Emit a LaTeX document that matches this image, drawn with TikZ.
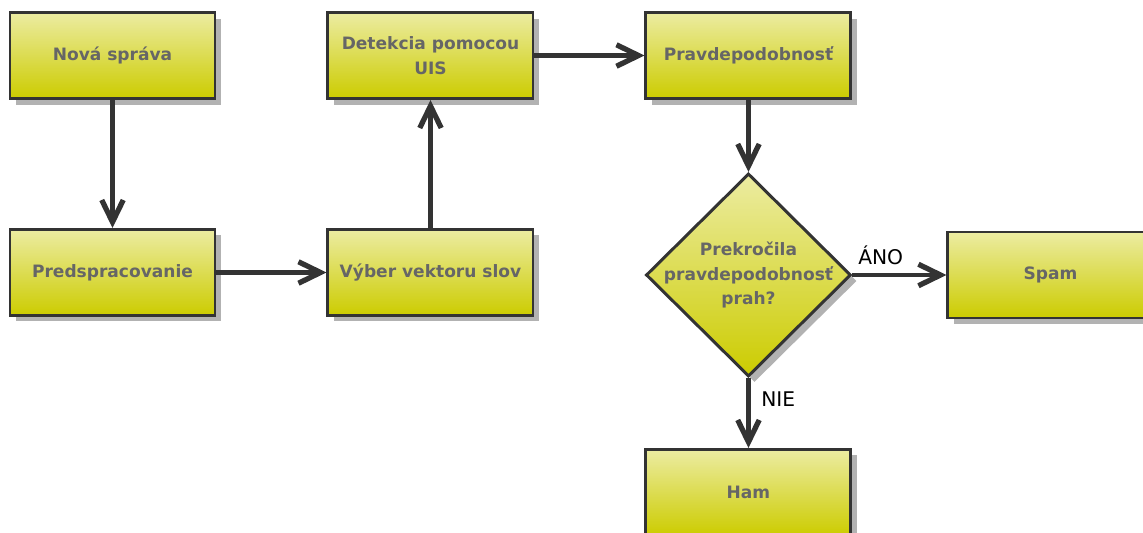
\documentclass[tikz,border=0pt]{standalone}
\usepackage{fontspec}
\setsansfont{DejaVu Sans}
\usetikzlibrary{arrows.meta,positioning,shapes.geometric,shadows}
\definecolor{flowdark}{RGB}{51,51,51}
\definecolor{flowtext}{RGB}{102,102,102}
\definecolor{flowtop}{RGB}{236,236,162}
\definecolor{flowbottom}{RGB}{204,204,0}
\definecolor{flowshadow}{RGB}{178,178,178}

\begin{document}
\begin{tikzpicture}[
    node distance=2.2cm,
    box/.style={rectangle, draw=flowdark, line width=1.7pt, top color=flowtop, bottom color=flowbottom,
      minimum width=4.1cm, minimum height=1.72cm, align=center, text=flowtext,
      font=\sffamily\bfseries\fontsize{9.7}{14}\selectfont,
      drop shadow={shadow xshift=0.12cm, shadow yshift=-0.12cm, fill=flowshadow, opacity=1}},
    decision/.style={box, diamond, inner sep=-0.3cm, minimum width=4.1cm, minimum height=4.06cm},
    answer/.style={font=\sffamily\fontsize{11.5}{13}\selectfont, text=black},
    arr/.style={-{Straight Barb[length=4.4mm, width=4.3mm, line width=3pt]}, line width=2.3pt, draw=flowdark}
  ]
  \useasboundingbox (0,0) rectangle (22.86,-10.64);

  % upper row
  \node[box] (nova) at (2.25,-1.11) {Nová správa};
  \node[box, right=of nova] (detekcia) {Detekcia pomocou\\UIS};
  \node[box, right=of detekcia] (pravd) {Pravdepodobnosť};

  % lower row
  \node[box, below=2.56cm of nova] (predsp) {Predspracovanie};
  \node[box, right=of predsp] (vyber) {Výber vektoru slov};

  % decision and results
  \node[decision, below=1.44cm of pravd] (prah) {Prekročila\\pravdepodobnosť\\prah?};
  \node[box, right=1.88cm of prah] (spam) {Spam};
  \node[box, below=1.4cm of prah] (ham) {Ham};

  \draw[arr] (nova) -- (predsp);
  \draw[arr] (predsp) -- (vyber);
  \draw[arr] (vyber) -- (detekcia);
  \draw[arr] (detekcia) -- (pravd);
  \draw[arr] (pravd) -- (prah);
  \draw[arr] (prah) -- node[answer, above, pos=0.3, yshift=0.05cm] (ano) {ÁNO} (spam);
  \draw[arr] (prah) -- node[answer, right, pos=0.3, xshift=0.1cm] (nie) {NIE} (ham);
\end{tikzpicture}
\end{document}
